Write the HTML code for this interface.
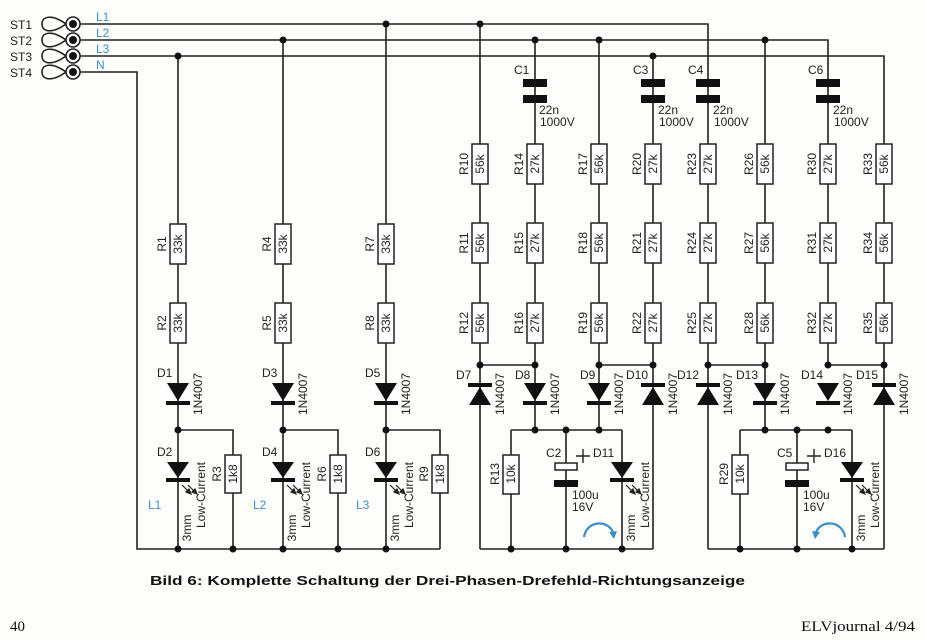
<!DOCTYPE html>
<html><head><meta charset="utf-8"><style>
html,body{margin:0;padding:0;background:#fff;}
svg{display:block;}
text{font-family:"Liberation Sans",sans-serif;font-size:12px;fill:#222;}
.b{fill:#3a8fc8;}
</style></head><body>
<svg width="925" height="640" viewBox="0 0 925 640" xmlns="http://www.w3.org/2000/svg">
<rect width="925" height="640" fill="#fdfdfb"/>
<g stroke="#222" stroke-width="1.6" fill="none">
<!-- buses -->
<path d="M80 24H708V549M80 40H828V365M80 56H884V549M80 72H137V549H440"/>
<!-- left columns -->
<path d="M178 56V549M283 40V549M386 24V549"/>
<path d="M178 430H233V549M283 430H338V549M386 430H440V549"/>
<!-- right block 1 -->
<path d="M480 24V549M535 40V430M599 40V430M653 56V549M480 365H535M599 365H653M511 430H622M511 430V549M566 430V549M622 430V549M480 549H653"/>
<!-- right block 2 -->
<path d="M765 40V430M708 365H765M828 365H884M740 430H852M740 430V549M797 430V549M852 430V549M708 549H884"/>
<!-- terminal loops -->
<path d="M66 24C52 14 42 16 42 24C42 32 52 34 66 24M66 40C52 30 42 32 42 40C42 48 52 50 66 40M66 56C52 46 42 48 42 56C42 64 52 66 66 56M66 72C52 62 42 64 42 72C42 80 52 82 66 72"/>
</g>
<!-- terminals -->
<g fill="#fff" stroke="#222" stroke-width="1.6">
<circle cx="73" cy="24" r="7"/><circle cx="73" cy="40" r="7"/><circle cx="73" cy="56" r="7"/><circle cx="73" cy="72" r="7"/>
</g>
<g fill="#111">
<circle cx="73" cy="24" r="4"/><circle cx="73" cy="40" r="4"/><circle cx="73" cy="56" r="4"/><circle cx="73" cy="72" r="4"/>
<!-- junction dots -->
<circle cx="178" cy="56" r="3.5"/><circle cx="283" cy="40" r="3.5"/><circle cx="386" cy="24" r="3.5"/>
<circle cx="480" cy="24" r="3.5"/><circle cx="535" cy="40" r="3.5"/><circle cx="599" cy="40" r="3.5"/><circle cx="765" cy="40" r="3.5"/><circle cx="653" cy="56" r="3.5"/>
<circle cx="178" cy="430" r="3.5"/><circle cx="283" cy="430" r="3.5"/><circle cx="386" cy="430" r="3.5"/>
<circle cx="178" cy="549" r="3.5"/><circle cx="233" cy="549" r="3.5"/><circle cx="283" cy="549" r="3.5"/><circle cx="338" cy="549" r="3.5"/><circle cx="386" cy="549" r="3.5"/>
<circle cx="480" cy="365" r="3.5"/><circle cx="535" cy="365" r="3.5"/><circle cx="599" cy="365" r="3.5"/><circle cx="653" cy="365" r="3.5"/>
<circle cx="535" cy="430" r="3.5"/><circle cx="566" cy="430" r="3.5"/><circle cx="599" cy="430" r="3.5"/>
<circle cx="511" cy="549" r="3.5"/><circle cx="566" cy="549" r="3.5"/><circle cx="622" cy="549" r="3.5"/>
<circle cx="708" cy="365" r="3.5"/><circle cx="765" cy="365" r="3.5"/><circle cx="828" cy="365" r="3.5"/><circle cx="884" cy="365" r="3.5"/>
<circle cx="765" cy="430" r="3.5"/><circle cx="797" cy="430" r="3.5"/><circle cx="828" cy="430" r="3.5"/>
<circle cx="740" cy="549" r="3.5"/><circle cx="797" cy="549" r="3.5"/><circle cx="852" cy="549" r="3.5"/>
<!-- capacitors C1 C3 C4 C6 -->
<rect x="523" y="79" width="24" height="8"/><rect x="523" y="95" width="24" height="8"/>
<rect x="641" y="79" width="24" height="8"/><rect x="641" y="95" width="24" height="8"/>
<rect x="696" y="79" width="24" height="8"/><rect x="696" y="95" width="24" height="8"/>
<rect x="816" y="79" width="24" height="8"/><rect x="816" y="95" width="24" height="8"/>
<!-- electrolytic filled plates -->
<rect x="554" y="480" width="24" height="7"/><rect x="785" y="480" width="24" height="7"/>
<!-- diodes pointing down (D1,D3,D5,D8,D9,D13,D14) -->
<polygon points="167,383 189,383 178,401"/><rect x="166" y="401" width="24" height="4"/>
<polygon points="272,383 294,383 283,401"/><rect x="271" y="401" width="24" height="4"/>
<polygon points="375,383 397,383 386,401"/><rect x="374" y="401" width="24" height="4"/>
<polygon points="524,383 546,383 535,401"/><rect x="523" y="401" width="24" height="4"/>
<polygon points="588,383 610,383 599,401"/><rect x="587" y="401" width="24" height="4"/>
<polygon points="754,383 776,383 765,401"/><rect x="753" y="401" width="24" height="4"/>
<polygon points="817,383 839,383 828,401"/><rect x="816" y="401" width="24" height="4"/>
<!-- diodes pointing up (D7,D10,D12,D15) -->
<rect x="468" y="383" width="24" height="4"/><polygon points="469,405 491,405 480,387"/>
<rect x="641" y="383" width="24" height="4"/><polygon points="642,405 664,405 653,387"/>
<rect x="696" y="383" width="24" height="4"/><polygon points="697,405 719,405 708,387"/>
<rect x="872" y="383" width="24" height="4"/><polygon points="873,405 895,405 884,387"/>
<!-- LEDs -->
<polygon points="167,462 189,462 178,478"/><rect x="166" y="478" width="24" height="4"/>
<polygon points="272,462 294,462 283,478"/><rect x="271" y="478" width="24" height="4"/>
<polygon points="375,462 397,462 386,478"/><rect x="374" y="478" width="24" height="4"/>
<polygon points="611,462 633,462 622,478"/><rect x="610" y="478" width="24" height="4"/>
<polygon points="841,462 863,462 852,478"/><rect x="840" y="478" width="24" height="4"/>
</g>
<!-- C2/C5 open plates -->
<g fill="#fff" stroke="#222" stroke-width="1.5">
<rect x="555" y="463" width="22" height="7"/><rect x="786" y="463" width="22" height="7"/>
</g>
<!-- LED emission arrows -->
<g stroke="#222" stroke-width="1.2" fill="#222">
<path d="M182 485L190 493M188 485L196 493" fill="none"/><polygon points="191,494 186,492 189,489"/><polygon points="197,494 192,492 195,489"/>
<path d="M287 485L295 493M293 485L301 493" fill="none"/><polygon points="296,494 291,492 294,489"/><polygon points="302,494 297,492 300,489"/>
<path d="M390 485L398 493M396 485L404 493" fill="none"/><polygon points="399,494 394,492 397,489"/><polygon points="405,494 400,492 403,489"/>
<path d="M626 485L634 493M632 485L640 493" fill="none"/><polygon points="635,494 630,492 633,489"/><polygon points="641,494 636,492 639,489"/>
<path d="M856 485L864 493M862 485L870 493" fill="none"/><polygon points="865,494 860,492 863,489"/><polygon points="871,494 866,492 869,489"/>
</g>
<!-- plus signs -->
<g stroke="#222" stroke-width="1.4"><path d="M576 456H590M583 449V463M807 456H821M814 449V463"/></g>
<!-- blue arrows -->
<g stroke="#3a8fc8" stroke-width="2.2" fill="none"><path d="M584 537C586 522 606 518 613 532"/><path d="M845 537C843 522 823 518 816 532"/></g>
<g fill="#3a8fc8"><polygon points="609,532 617,531 614,539"/><polygon points="820,532 812,531 815,539"/></g>
<!-- resistors -->
<g fill="#fff" stroke="#222" stroke-width="1.5">
<rect x="170" y="224" width="16" height="40"/><rect x="170" y="303" width="16" height="40"/><rect x="225" y="455" width="16" height="38"/>
<rect x="275" y="224" width="16" height="40"/><rect x="275" y="303" width="16" height="40"/><rect x="330" y="455" width="16" height="38"/>
<rect x="378" y="224" width="16" height="40"/><rect x="378" y="303" width="16" height="40"/><rect x="432" y="455" width="16" height="38"/>
<rect x="503" y="455" width="16" height="39"/><rect x="732" y="455" width="16" height="39"/>
<rect x="472" y="144" width="16" height="40"/><rect x="472" y="223" width="16" height="40"/><rect x="472" y="303" width="16" height="40"/>
<rect x="527" y="144" width="16" height="40"/><rect x="527" y="223" width="16" height="40"/><rect x="527" y="303" width="16" height="40"/>
<rect x="591" y="144" width="16" height="40"/><rect x="591" y="223" width="16" height="40"/><rect x="591" y="303" width="16" height="40"/>
<rect x="645" y="144" width="16" height="40"/><rect x="645" y="223" width="16" height="40"/><rect x="645" y="303" width="16" height="40"/>
<rect x="700" y="144" width="16" height="40"/><rect x="700" y="223" width="16" height="40"/><rect x="700" y="303" width="16" height="40"/>
<rect x="757" y="144" width="16" height="40"/><rect x="757" y="223" width="16" height="40"/><rect x="757" y="303" width="16" height="40"/>
<rect x="820" y="144" width="16" height="40"/><rect x="820" y="223" width="16" height="40"/><rect x="820" y="303" width="16" height="40"/>
<rect x="876" y="144" width="16" height="40"/><rect x="876" y="223" width="16" height="40"/><rect x="876" y="303" width="16" height="40"/>
</g>
<!-- terminal labels -->
<text x="10" y="29">ST1</text><text x="10" y="45">ST2</text><text x="10" y="61">ST3</text><text x="10" y="77">ST4</text>
<text class="b" x="96" y="21">L1</text><text class="b" x="96" y="37">L2</text><text class="b" x="96" y="53">L3</text><text class="b" x="96" y="69">N</text>
<!-- resistor texts left -->
<g text-anchor="middle">
<text transform="translate(182,244) rotate(-90)">33k</text><text transform="translate(166,244) rotate(-90)">R1</text>
<text transform="translate(182,323) rotate(-90)">33k</text><text transform="translate(166,323) rotate(-90)">R2</text>
<text transform="translate(237,474) rotate(-90)">1k8</text><text transform="translate(221,474) rotate(-90)">R3</text>
<text transform="translate(287,244) rotate(-90)">33k</text><text transform="translate(271,244) rotate(-90)">R4</text>
<text transform="translate(287,323) rotate(-90)">33k</text><text transform="translate(271,323) rotate(-90)">R5</text>
<text transform="translate(342,474) rotate(-90)">1k8</text><text transform="translate(326,474) rotate(-90)">R6</text>
<text transform="translate(390,244) rotate(-90)">33k</text><text transform="translate(374,244) rotate(-90)">R7</text>
<text transform="translate(390,323) rotate(-90)">33k</text><text transform="translate(374,323) rotate(-90)">R8</text>
<text transform="translate(444,474) rotate(-90)">1k8</text><text transform="translate(428,474) rotate(-90)">R9</text>
<text transform="translate(515,474) rotate(-90)">10k</text><text transform="translate(499,474) rotate(-90)">R13</text>
<text transform="translate(744,474) rotate(-90)">10k</text><text transform="translate(728,474) rotate(-90)">R29</text>
<!-- right resistors -->
<text transform="translate(484,164) rotate(-90)">56k</text><text transform="translate(468,164) rotate(-90)">R10</text>
<text transform="translate(484,243) rotate(-90)">56k</text><text transform="translate(468,243) rotate(-90)">R11</text>
<text transform="translate(484,323) rotate(-90)">56k</text><text transform="translate(468,323) rotate(-90)">R12</text>
<text transform="translate(539,164) rotate(-90)">27k</text><text transform="translate(523,164) rotate(-90)">R14</text>
<text transform="translate(539,243) rotate(-90)">27k</text><text transform="translate(523,243) rotate(-90)">R15</text>
<text transform="translate(539,323) rotate(-90)">27k</text><text transform="translate(523,323) rotate(-90)">R16</text>
<text transform="translate(603,164) rotate(-90)">56k</text><text transform="translate(587,164) rotate(-90)">R17</text>
<text transform="translate(603,243) rotate(-90)">56k</text><text transform="translate(587,243) rotate(-90)">R18</text>
<text transform="translate(603,323) rotate(-90)">56k</text><text transform="translate(587,323) rotate(-90)">R19</text>
<text transform="translate(657,164) rotate(-90)">27k</text><text transform="translate(641,164) rotate(-90)">R20</text>
<text transform="translate(657,243) rotate(-90)">27k</text><text transform="translate(641,243) rotate(-90)">R21</text>
<text transform="translate(657,323) rotate(-90)">27k</text><text transform="translate(641,323) rotate(-90)">R22</text>
<text transform="translate(712,164) rotate(-90)">27k</text><text transform="translate(696,164) rotate(-90)">R23</text>
<text transform="translate(712,243) rotate(-90)">27k</text><text transform="translate(696,243) rotate(-90)">R24</text>
<text transform="translate(712,323) rotate(-90)">27k</text><text transform="translate(696,323) rotate(-90)">R25</text>
<text transform="translate(769,164) rotate(-90)">56k</text><text transform="translate(753,164) rotate(-90)">R26</text>
<text transform="translate(769,243) rotate(-90)">56k</text><text transform="translate(753,243) rotate(-90)">R27</text>
<text transform="translate(769,323) rotate(-90)">56k</text><text transform="translate(753,323) rotate(-90)">R28</text>
<text transform="translate(832,164) rotate(-90)">27k</text><text transform="translate(816,164) rotate(-90)">R30</text>
<text transform="translate(832,243) rotate(-90)">27k</text><text transform="translate(816,243) rotate(-90)">R31</text>
<text transform="translate(832,323) rotate(-90)">27k</text><text transform="translate(816,323) rotate(-90)">R32</text>
<text transform="translate(888,164) rotate(-90)">56k</text><text transform="translate(872,164) rotate(-90)">R33</text>
<text transform="translate(888,243) rotate(-90)">56k</text><text transform="translate(872,243) rotate(-90)">R34</text>
<text transform="translate(888,323) rotate(-90)">56k</text><text transform="translate(872,323) rotate(-90)">R35</text>
<!-- 1N4007 -->
<text transform="translate(202,394) rotate(-90)">1N4007</text>
<text transform="translate(307,394) rotate(-90)">1N4007</text>
<text transform="translate(410,394) rotate(-90)">1N4007</text>
<text transform="translate(504,394) rotate(-90)">1N4007</text>
<text transform="translate(559,394) rotate(-90)">1N4007</text>
<text transform="translate(623,394) rotate(-90)">1N4007</text>
<text transform="translate(677,394) rotate(-90)">1N4007</text>
<text transform="translate(732,394) rotate(-90)">1N4007</text>
<text transform="translate(789,394) rotate(-90)">1N4007</text>
<text transform="translate(852,394) rotate(-90)">1N4007</text>
<text transform="translate(908,394) rotate(-90)">1N4007</text>
<!-- LED texts -->
<text transform="translate(191,528) rotate(-90)">3mm</text><text transform="translate(205,495) rotate(-90)">Low-Current</text>
<text transform="translate(296,528) rotate(-90)">3mm</text><text transform="translate(310,495) rotate(-90)">Low-Current</text>
<text transform="translate(399,528) rotate(-90)">3mm</text><text transform="translate(413,495) rotate(-90)">Low-Current</text>
<text transform="translate(635,528) rotate(-90)">3mm</text><text transform="translate(649,495) rotate(-90)">Low-Current</text>
<text transform="translate(865,528) rotate(-90)">3mm</text><text transform="translate(879,495) rotate(-90)">Low-Current</text>
</g>
<!-- diode names -->
<text x="157" y="377">D1</text><text x="157" y="456">D2</text>
<text x="262" y="377">D3</text><text x="262" y="456">D4</text>
<text x="365" y="377">D5</text><text x="365" y="456">D6</text>
<text class="b" x="148" y="509">L1</text><text class="b" x="253" y="509">L2</text><text class="b" x="356" y="509">L3</text>
<text x="456" y="379">D7</text><text x="515" y="379">D8</text><text x="580" y="379">D9</text><text x="626" y="379">D10</text>
<text x="677" y="379">D12</text><text x="736" y="379">D13</text><text x="801" y="379">D14</text><text x="856" y="379">D15</text>
<text x="593" y="457">D11</text><text x="824" y="457">D16</text>
<text x="546" y="457">C2</text><text x="777" y="457">C5</text>
<text x="572" y="499">100u</text><text x="572" y="511">16V</text>
<text x="803" y="499">100u</text><text x="803" y="511">16V</text>
<!-- caps -->
<text x="514" y="74">C1</text><text x="539" y="114">22n</text><text x="540" y="126">1000V</text>
<text x="633" y="74">C3</text><text x="658" y="114">22n</text><text x="659" y="126">1000V</text>
<text x="688" y="74">C4</text><text x="713" y="114">22n</text><text x="714" y="126">1000V</text>
<text x="808" y="74">C6</text><text x="833" y="114">22n</text><text x="834" y="126">1000V</text>
<!-- caption -->
<text x="150" y="585" style="font-weight:bold;font-size:13px;fill:#111" textLength="595" lengthAdjust="spacingAndGlyphs">Bild 6: Komplette Schaltung der Drei-Phasen-Drefehld-Richtungsanzeige</text>
<text x="10" y="631" style="font-family:'Liberation Serif',serif;font-size:15px;fill:#111">40</text>
<text x="801" y="631" style="font-family:'Liberation Serif',serif;font-size:15px;fill:#111" textLength="114" lengthAdjust="spacingAndGlyphs">ELVjournal 4/94</text>
</svg>
</body></html>
